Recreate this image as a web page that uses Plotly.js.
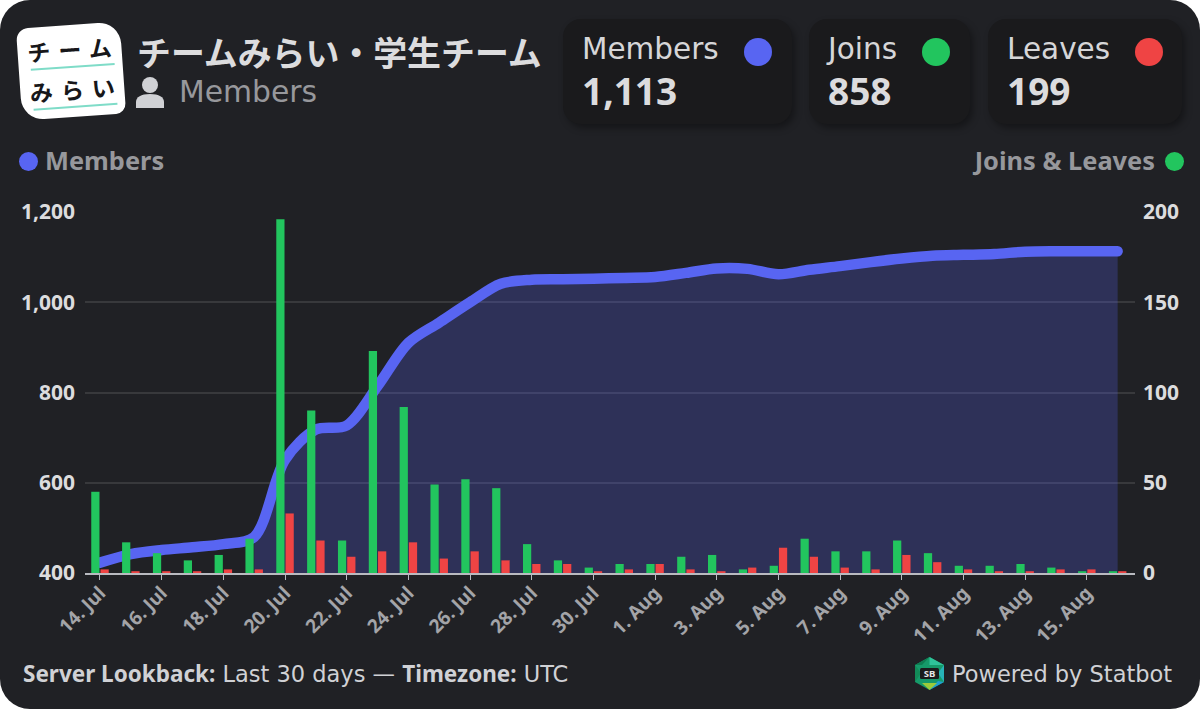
<!DOCTYPE html>
<html><head><meta charset="utf-8">
<script src="https://cdn.plot.ly/plotly-3.0.1.min.js"></script>
<style>
html,body{margin:0;padding:0;background:#fff;width:1200px;height:709px;overflow:hidden;font-family:"DejaVu Sans",sans-serif}
b{font-family:"Noto Sans";font-weight:700}
#card{position:absolute;left:0;top:0;width:1200px;height:709px;background:#202125;border-radius:30px;overflow:hidden}
#chart{position:absolute;left:0;top:0;width:1200px;height:709px}
.abs{position:absolute;white-space:nowrap}
.stat{position:absolute;top:19px;height:105px;background:#1a1a1c;border-radius:18px;box-shadow:3px 4px 7px rgba(0,0,0,.35)}
.stat .lab{position:absolute;left:19px;top:10px;font-size:29.5px;line-height:40px;color:#d6d6d8}
.stat .val{position:absolute;left:19px;top:47px;font:700 37px/50px "Noto Sans";color:#dcdcde}
.stat .dot{position:absolute;top:19px;width:28px;height:28px;border-radius:50%}
.js-line{stroke-linecap:round}
#logo{position:absolute;left:19px;top:25px;width:104px;height:92px;background:#fff;border-radius:12px 22px 10px 22px;transform:rotate(-4deg);font-family:"Noto Sans CJK JP";font-weight:700;color:#17171a}
#logo .t{position:absolute;left:0;width:104px;text-align:center;font-size:23px;line-height:28px;letter-spacing:8px;text-indent:8px;white-space:nowrap}
#logo .u{position:absolute;left:12px;width:84px;height:2px;background:#7fdcc8}
.leg{font:700 25.4px/34px "Noto Sans";color:#97989c}
</style></head><body>
<div id="card">
<div id="chart"></div>
<div id="logo"><div class="t" style="top:10px">チーム</div><div class="u" style="top:41px"></div><div class="t" style="top:50px">みらい</div><div class="u" style="top:81px"></div></div>
<div class="abs" style="left:137px;top:28px;font:700 33.9px/48px 'Noto Sans CJK JP';color:#dcdcde">チームみらい・学生チーム</div>
<svg class="abs" style="left:135px;top:76px" width="30" height="33" viewBox="0 0 30 33"><circle cx="15" cy="9" r="8" fill="#d0d1d5"/><path d="M1 32v-6c0-5 5-8 14-8s14 3 14 8v6z" fill="#d0d1d5"/></svg>
<div class="abs" style="left:179px;top:72px;font-size:29.8px;line-height:40px;color:#97989c">Members</div>

<div class="stat" style="left:563px;width:229px"><div class="lab">Members</div><div class="val">1,113</div><div class="dot" style="left:181px;background:#5865f2"></div></div>
<div class="stat" style="left:809px;width:161px"><div class="lab">Joins</div><div class="val">858</div><div class="dot" style="left:113px;background:#22c55e"></div></div>
<div class="stat" style="left:988px;width:194px"><div class="lab">Leaves</div><div class="val">199</div><div class="dot" style="left:147px;background:#ef4444"></div></div>

<div class="abs" style="left:19px;top:152px;width:19px;height:19px;border-radius:50%;background:#5865f2"></div>
<div class="abs leg" style="left:45px;top:143px">Members</div>
<div class="abs leg" style="right:45px;top:143px">Joins &amp; Leaves</div>
<div class="abs" style="left:1165px;top:152px;width:19px;height:19px;border-radius:50%;background:#22c55e"></div>

<div class="abs" style="left:23px;top:659px;font-size:22.5px;line-height:30px;color:#d0d1d5"><b>Server Lookback:</b> Last 30 days — <b>Timezone:</b> UTC</div>
<svg class="abs" style="left:914px;top:657px" width="31" height="33" viewBox="0 0 31 33">
<polygon points="15.5,0 30,8 30,25 15.5,33 1,25 1,8" fill="#169a6a"/>
<polygon points="15.5,0 30,8 15.5,8" fill="#2fc39a"/><polygon points="1,8 15.5,0 8,8" fill="#0e7d52"/>
<polygon points="30,8 30,25 24,16" fill="#27b3b8"/><polygon points="30,25 15.5,33 24,24" fill="#1f9fd0"/>
<polygon points="15.5,33 8,26 23,26" fill="#9ccb3b"/><polygon points="1,25 1,8 7,16" fill="#128a58"/>
<rect x="6" y="11" width="19" height="11" rx="1.5" fill="#1a1a1c"/>
<text x="15.5" y="20" text-anchor="middle" font-family="Noto Sans" font-weight="700" font-size="9.5" fill="#e6e6e6">SB</text></svg>
<div class="abs" style="left:952px;top:659px;font-size:22.5px;line-height:30px;color:#d0d1d5">Powered by Statbot</div>
</div>
<script>
const days = ["2025-07-14","2025-07-15","2025-07-16","2025-07-17","2025-07-18","2025-07-19","2025-07-20","2025-07-21","2025-07-22","2025-07-23","2025-07-24","2025-07-25","2025-07-26","2025-07-27","2025-07-28","2025-07-29","2025-07-30","2025-07-31","2025-08-01","2025-08-02","2025-08-03","2025-08-04","2025-08-05","2025-08-06","2025-08-07","2025-08-08","2025-08-09","2025-08-10","2025-08-11","2025-08-12","2025-08-13","2025-08-14","2025-08-15","2025-08-16"];
const members = [423,442,451,457,464,480,651,718,727,814,910,955,1000,1041,1050,1051,1052,1054,1056,1065,1075,1074,1062,1072,1080,1089,1097,1103,1105,1107,1112,1113,1113,1113];
const joins = [45,17,11,7,10,19,196,90,18,123,92,49,52,47,16,7,3,5,5,9,10,2,4,19,12,12,18,11,4,4,5,3,1,1];
const leaves = [2,1,1,1,2,2,33,18,9,12,17,8,12,7,5,5,1,2,5,2,1,3,14,9,3,2,10,6,2,1,1,2,2,1];
const xTickVals = ["2025-07-14","2025-07-16","2025-07-18","2025-07-20","2025-07-22","2025-07-24","2025-07-26","2025-07-28","2025-07-30","2025-08-01","2025-08-03","2025-08-05","2025-08-07","2025-08-09","2025-08-11","2025-08-13","2025-08-15"];
const xTickText = ["14. Jul","16. Jul","18. Jul","20. Jul","22. Jul","24. Jul","26. Jul","28. Jul","30. Jul","1. Aug","3. Aug","5. Aug","7. Aug","9. Aug","11. Aug","13. Aug","15. Aug"];
const fillFrom = 5;
const traces = [
 {type:'scatter',mode:'none',x:days.slice(fillFrom),y:members.slice(fillFrom),fill:'tozeroy',fillcolor:'rgba(88,101,242,0.25)',line:{shape:'spline',smoothing:0.9},hoverinfo:'skip',showlegend:false,yaxis:'y'},
 {type:'scatter',mode:'lines',name:'Members',x:days,y:members,line:{color:'#5865f2',width:10.5,shape:'spline',smoothing:0.9},showlegend:false,yaxis:'y'},
 {type:'bar',name:'Joins',x:days,y:joins,marker:{color:'#22c55e',line:{width:0}},yaxis:'y2',showlegend:false},
 {type:'bar',name:'Leaves',x:days,y:leaves,marker:{color:'#ef4444',line:{width:0}},yaxis:'y2',showlegend:false}
];
const layout = {
 width:1200,height:709,paper_bgcolor:'rgba(0,0,0,0)',plot_bgcolor:'rgba(0,0,0,0)',
 margin:{l:85,r:65,t:212,b:136,pad:0},barmode:'group',bargap:0.4,bargroupgap:0.11,showlegend:false,
 xaxis:{type:'date',range:["2025-07-13 12:20","2025-08-16 13:30"],tickmode:'array',tickvals:xTickVals,ticktext:xTickText,tickangle:-45,
  showgrid:false,zeroline:false,showline:true,linecolor:'#b9bac0',linewidth:1.5,ticks:'outside',ticklen:5,tickcolor:'#b9bac0',tickwidth:1,ticklabelstandoff:-5,
  tickfont:{family:'Noto Sans',size:19,color:'#a3a4a8',weight:700}},
 yaxis:{range:[400,1200],tickvals:[400,600,800,1000,1200],ticktext:['400','600','800','1,000','1,200'],gridcolor:'rgba(255,255,255,0.11)',gridwidth:2,
  zeroline:false,showline:false,ticks:'',ticklabelstandoff:9,tickfont:{family:'Noto Sans',size:21,color:'#dcdcde',weight:700}},
 yaxis2:{overlaying:'y',side:'right',range:[0,200],tickvals:[0,50,100,150,200],showgrid:false,zeroline:false,showline:false,ticks:'',ticklabelstandoff:7,
  tickfont:{family:'Noto Sans',size:21,color:'#dcdcde',weight:700}}
};
Plotly.newPlot('chart',traces,layout,{displayModeBar:false,staticPlot:true});
</script>
</body></html>
